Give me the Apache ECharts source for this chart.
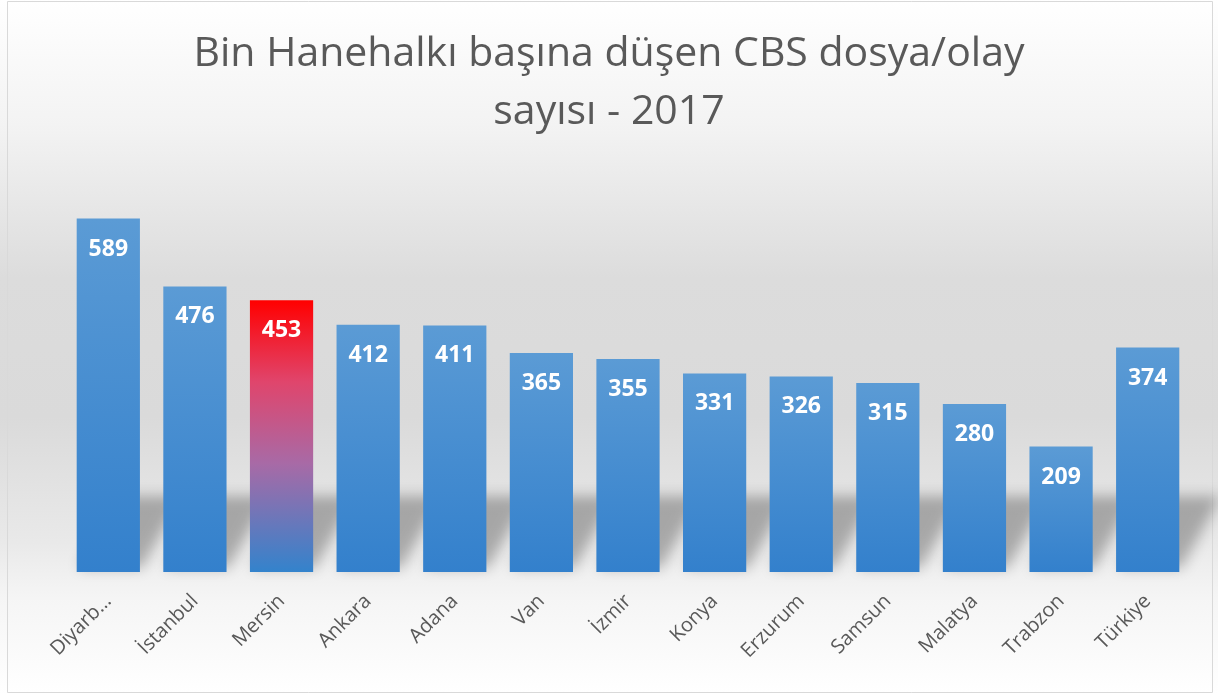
<!DOCTYPE html>
<html>
<head>
<meta charset="utf-8">
<script src="https://cdn.jsdelivr.net/npm/echarts@6/dist/echarts.min.js"></script>
<style>
  html, body { margin: 0; padding: 0; background: #fff; }
  #chart { width: 1218px; height: 695px; }
</style>
</head>
<body>
<div id="chart"></div>
<script>
  var categories = ['Diyarbakır', 'İstanbul', 'Mersin', 'Ankara', 'Adana', 'Van', 'İzmir', 'Konya', 'Erzurum', 'Samsun', 'Malatya', 'Trabzon', 'Türkiye']
  var values = [589, 476, 453, 412, 411, 365, 355, 331, 326, 315, 280, 209, 374]
  var highlight = 'Mersin'

  var blueFill = new echarts.graphic.LinearGradient(0, 0, 0, 1, [
    { offset: 0, color: '#5b9bd5' },
    { offset: 1, color: '#3380cc' }
  ])
  var redFill = new echarts.graphic.LinearGradient(0, 0, 0, 1, [
    { offset: 0, color: '#ff0000' },
    { offset: 0.3, color: '#e0456c' },
    { offset: 0.6, color: '#a86aa6' },
    { offset: 1, color: '#3383cc' }
  ])

  var barData = values.map(function (v, i) {
    return {
      value: v,
      itemStyle: { color: categories[i] === highlight ? redFill : blueFill }
    }
  })

  // the shadow shape is drawn off screen and only its blurred shadow is moved back
  var OFF = 3000

  var myChart = echarts.init(document.getElementById('chart'))
  myChart.setOption({
    animation: false,
    backgroundColor: new echarts.graphic.LinearGradient(0, 0, 0, 1, [
      { offset: 0, color: '#ffffff' },
      { offset: 0.18, color: '#f3f3f3' },
      { offset: 0.4, color: '#dcdcdc' },
      { offset: 0.6, color: '#dadada' },
      { offset: 0.78, color: '#e9e9e9' },
      { offset: 0.86, color: '#f5f5f5' },
      { offset: 1, color: '#ffffff' }
    ]),
    graphic: [{
      type: 'rect',
      shape: { x: 7.5, y: 1.5, width: 1205, height: 691 },
      style: { fill: 'none', stroke: '#d9d9d9', lineWidth: 1 },
      silent: true
    }],
    title: {
      text: 'Bin Hanehalkı başına düşen CBS dosya/olay\nsayısı - 2017',
      left: 'center',
      top: 20,
      textStyle: {
        fontFamily: 'Open Sans',
        fontWeight: 'normal',
        fontSize: 41,
        lineHeight: 58,
        color: '#595959'
      }
    },
    grid: {
      left: 65,
      right: 27,
      top: 152,
      bottom: 123
    },
    xAxis: {
      type: 'category',
      data: categories,
      axisLine: { show: false },
      axisTick: { show: false },
      axisLabel: {
        rotate: 45,
        margin: 26,
        interval: 0,
        color: '#595959',
        fontFamily: 'Open Sans',
        fontSize: 20,
        width: 86,
        overflow: 'truncate',
        ellipsis: '…'
      }
    },
    yAxis: {
      type: 'value',
      min: 0,
      max: 700,
      show: false,
      splitLine: { show: false }
    },
    series: [{
      // soft perspective shadow behind the bars
      type: 'custom',
      z: 1,
      silent: true,
      clip: false,
      data: values,
      renderItem: function (params, api) {
        var base = api.coord([api.value(0), 0])
        var w = api.size([1, 0])[0] * 0.73
        var x0 = base[0] - w / 2 - OFF
        var y0 = base[1] - 4
        return {
          type: 'polygon',
          shape: {
            points: [[x0 + 2, y0], [x0 + w + 2, y0], [x0 + w + 42, y0 - 72], [x0 + 40, y0 - 72]]
          },
          style: {
            fill: '#000',
            shadowBlur: 14,
            shadowOffsetX: OFF,
            shadowColor: 'rgba(0,0,0,0.28)'
          }
        }
      }
    }, {
      type: 'bar',
      z: 2,
      data: barData,
      barCategoryGap: '27%',
      label: {
        show: true,
        position: 'insideTop',
        distance: 19,
        color: '#ffffff',
        fontFamily: 'Open Sans',
        fontWeight: 'bold',
        fontSize: 23
      }
    }]
  })
  window.addEventListener('resize', function () {
    myChart.resize()
  })
</script>
</body>
</html>
